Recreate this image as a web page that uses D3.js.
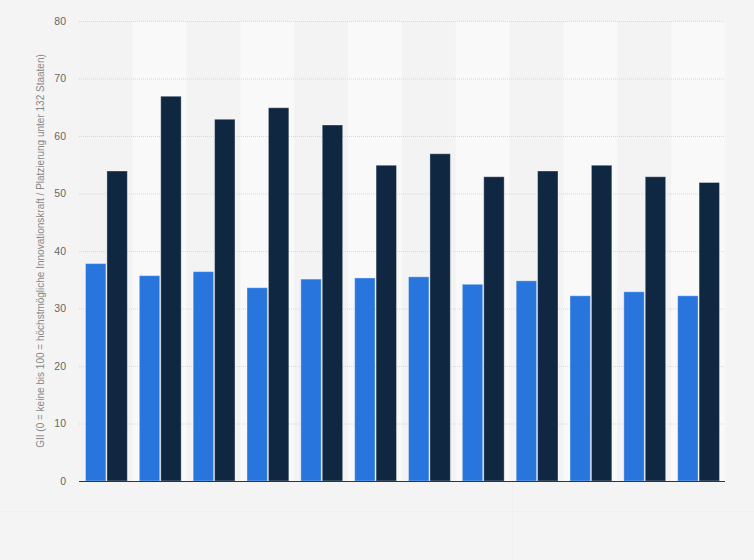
<!DOCTYPE html>
<html>
<head>
<meta charset="utf-8">
<script src="https://cdn.jsdelivr.net/npm/d3@7"></script>
<style>
  body { margin: 0; background: #f4f4f4; }
  svg { display: block; font-family: Arial, "Liberation Sans", sans-serif; }
</style>
</head>
<body>
<div id="chart"></div>
<script>
// data
var groups = ["1", "2", "3", "4", "5", "6", "7", "8", "9", "10", "11", "12"];
var scoreValues = [37.9, 35.8, 36.5, 33.7, 35.2, 35.4, 35.6, 34.3, 34.9, 32.3, 33.0, 32.3];
var rankValues = [54, 67, 63, 65, 62, 55, 57, 53, 54, 55, 53, 52];
var yTicks = [0, 10, 20, 30, 40, 50, 60, 70, 80];
var yLabel = "GII (0 = keine bis 100 = höchstmögliche Innovationskraft / Platzierung unter 132 Staaten)";

var W = 754, H = 560;
var margin = {top: 21, right: 29, bottom: 79, left: 79};
var width = W - margin.left - margin.right;
var height = H - margin.top - margin.bottom;

var svg = d3.select("#chart").append("svg")
  .attr("width", W)
  .attr("height", H);

svg.append("rect").attr("width", W).attr("height", H).attr("fill", "#f4f4f4");

// faint panel lines at the bottom
svg.append("line")
  .attr("x1", 0).attr("x2", W).attr("y1", 511.5).attr("y2", 511.5)
  .attr("stroke", "#efefef");
svg.append("line")
  .attr("x1", 512.5).attr("x2", 512.5).attr("y1", margin.top + height).attr("y2", H)
  .attr("stroke", "#efefef");

var g = svg.append("g")
  .attr("transform", "translate(" + margin.left + "," + margin.top + ")");

var x0 = d3.scaleBand()
  .domain(groups)
  .range([0, width])
  .paddingInner(0)
  .paddingOuter(0);

var x1 = d3.scaleBand()
  .domain(["score", "rank"])
  .range([6, x0.bandwidth() - 5])
  .padding(0);

var y = d3.scaleLinear()
  .domain([0, 80])
  .range([height, 0]);

// alternating column bands
g.selectAll(".band")
  .data(groups)
  .enter().append("rect")
  .attr("class", "band")
  .attr("x", function(d) { return x0(d); })
  .attr("y", 0)
  .attr("width", x0.bandwidth())
  .attr("height", height)
  .attr("fill", function(d, i) { return i % 2 ? "#f9f9f9" : "#f3f3f3"; });

// grid + y axis
var yAxis = d3.axisLeft(y)
  .tickValues(yTicks)
  .tickSize(-width)
  .tickPadding(13);

g.append("g")
  .attr("class", "axis y")
  .call(yAxis)
  .call(function(a) {
    a.select(".domain").remove();
    a.selectAll(".tick line")
      .attr("stroke", "#d8d8d8")
      .attr("stroke-dasharray", "1,1");
    a.selectAll(".tick text")
      .attr("fill", "#666")
      .style("font-size", "10.5px");
  });

var rows = groups.map(function(d, i) {
  return {name: d, score: scoreValues[i], rank: rankValues[i]};
});

var colors = {score: "#2876dd", rank: "#0f2741"};

var grp = g.selectAll(".grp")
  .data(rows)
  .enter().append("g")
  .attr("class", "grp")
  .attr("transform", function(d) { return "translate(" + x0(d.name) + ",0)"; });

grp.selectAll("rect")
  .data(function(d) {
    return [{key: "score", value: d.score}, {key: "rank", value: d.rank}];
  })
  .enter().append("rect")
  .attr("x", function(d) { return x1(d.key) + 0.5; })
  .attr("y", function(d) { return y(d.value) + 0.5; })
  .attr("width", x1.bandwidth() - 1)
  .attr("height", function(d) { return height - y(d.value) - 0.5; })
  .attr("fill", function(d) { return colors[d.key]; })
  .attr("stroke", "rgba(255,255,255,0.35)")
  .attr("stroke-width", 1);

// x axis baseline
g.append("line")
  .attr("x1", 0).attr("x2", width)
  .attr("y1", height + 0.5).attr("y2", height + 0.5)
  .attr("stroke", "#333")
  .attr("stroke-width", 1);

// y axis title
svg.append("text")
  .attr("transform", "translate(44," + (margin.top + height / 2) + ") rotate(-90)")
  .attr("text-anchor", "middle")
  .attr("fill", "#888")
  .style("font-size", "10px")
  .text(yLabel);
</script>
</body>
</html>
